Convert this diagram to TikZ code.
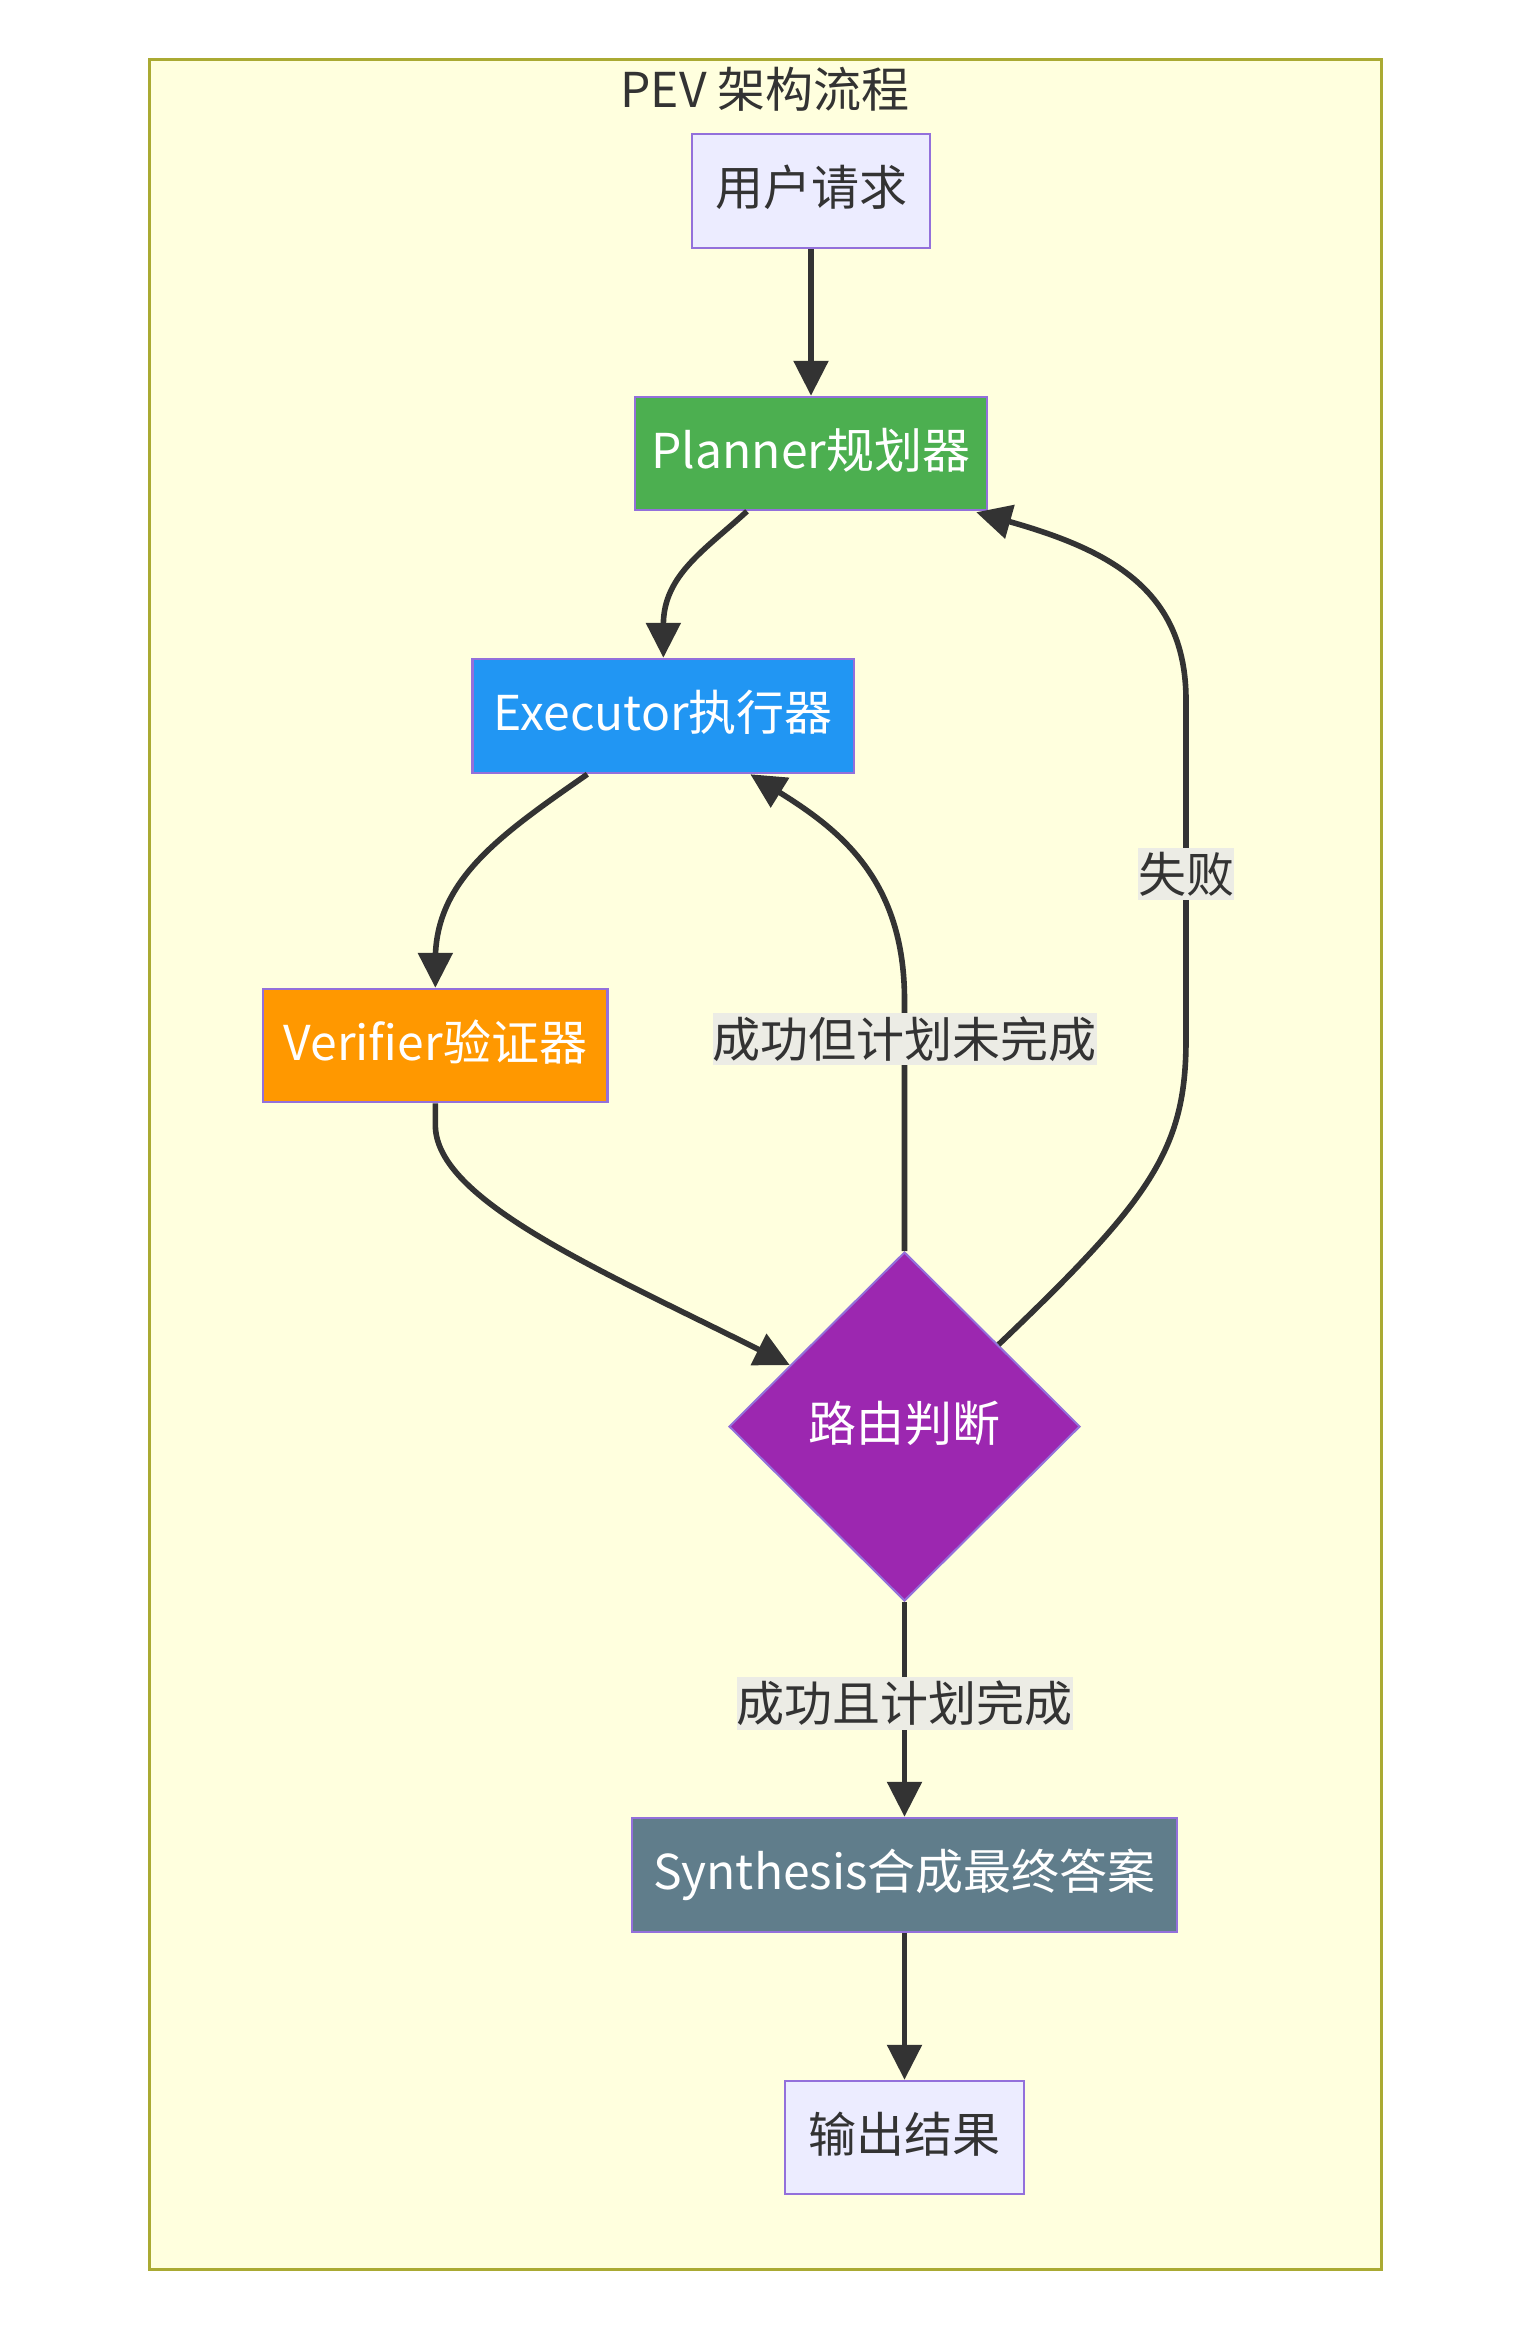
\documentclass[tikz,border=0pt]{standalone}
\usepackage{fontspec}
\setmainfont{Noto Sans CJK SC}
\usetikzlibrary{shapes.geometric,arrows.meta,calc}
\definecolor{sgfill}{HTML}{FFFFDE}
\definecolor{sgstroke}{HTML}{AAAA33}
\definecolor{nodefill}{HTML}{ECECFF}
\definecolor{nodestroke}{HTML}{9370DB}
\definecolor{textdark}{HTML}{333333}
\definecolor{edgecol}{HTML}{333333}
\definecolor{lblbg}{RGB}{236,236,229}
\definecolor{cplanner}{HTML}{4CAF50}
\definecolor{cexec}{HTML}{2196F3}
\definecolor{cverif}{HTML}{FF9800}
\definecolor{crouter}{HTML}{9C27B0}
\definecolor{csynth}{HTML}{607D8B}
\begin{document}
\begin{tikzpicture}[x=0.5pt,y=-0.5pt,
  txt/.style={font=\fontsize{24pt}{28pt}\selectfont},
  raised/.style={text height=20pt, text depth=5.4pt},
  box/.style={txt, raised, draw=nodestroke, line width=1.25pt, inner sep=0pt, align=center},
  plainbox/.style={box, fill=nodefill, text=textdark},
  colorbox/.style={box, text=white},
  lbl/.style={txt, fill=lblbg, text=textdark, inner xsep=0pt, inner ysep=0pt, minimum height=26.25pt},
  edge/.style={draw=edgecol, line width=2.8pt, -{Triangle[length=17.5pt,width=17pt]}},
  sgbox/.style={draw=sgstroke, fill=sgfill, line width=1.5pt, inner sep=0pt}
]
\useasboundingbox (0,0) rectangle (1531,2329);
\fill[white] (0,0) rectangle (1531,2329);

% subgraph container
\node[sgbox, minimum width=616pt, minimum height=1105pt] (pev) at (765,1164) {};
\node[txt, text=textdark, inner sep=0pt] (title) at (765,89) {PEV 架构流程};

% nodes
\node[plainbox, minimum width=119pt, minimum height=57pt] (user) at (811,191) {用户请求};
\node[colorbox, fill=cplanner, minimum width=176pt, minimum height=56.5pt] (planner) at (811,453.5) {Planner规划器};
\node[colorbox, fill=cexec, minimum width=190.65pt, minimum height=57pt] (executor) at (663.35,716) {Executor执行器};
\node[colorbox, fill=cverif, minimum width=172.35pt, minimum height=56.5pt] (verifier) at (435.35,1045.5) {Verifier验证器};
\node[diamond, aspect=1, txt, raised, text=white, fill=crouter, draw=nodestroke, line width=1pt, inner sep=0pt,
      minimum width=175.5pt, minimum height=174.5pt] (router) at (904.5,1426.5) {路由判断};
\node[colorbox, fill=csynth, minimum width=272.5pt, minimum height=57pt] (synth) at (904.5,1875) {Synthesis合成最终答案};
\node[plainbox, minimum width=119.5pt, minimum height=56.5pt] (out) at (904.5,2137.5) {输出结果};

% edges
\draw[edge] (user.south) -- (planner.north);
\draw[edge] ($(planner.south)+(-64,0)$) .. controls (705,550) and (663.35,575) .. (663.35,625) -- (executor.north);
\draw[edge] ($(executor.south)+(-76,0)$) .. controls (500,835) and (435.35,880) .. (435.35,960) -- (verifier.north);
\draw[edge] (verifier.south) -- (435.35,1125) .. controls (435.35,1200) and (600,1270) .. ($(router.west)!0.35!(router.north)$);
\draw[edge] (router.north) -- (904.5,1000) .. controls (904.5,880) and (840,830) .. ($(executor.south)+(87,0)$);
\draw[edge] ($(router.north)!0.533!(router.east)$) .. controls (1150,1200) and (1186,1150) .. (1186,1040) -- (1186,700) .. controls (1186,590) and (1110,550) .. ($(planner.south east)+(-12,1)$);
\draw[edge] (router.south) -- (synth.north);
\draw[edge] (synth.south) -- (out.north);

% edge labels
\node[lbl] (lbl1) at (904.5,1039) {成功但计划未完成};
\node[lbl] (lbl2) at (1186,874) {失败};
\node[lbl] (lbl3) at (904.5,1703.6) {成功且计划完成};
\end{tikzpicture}
\end{document}
